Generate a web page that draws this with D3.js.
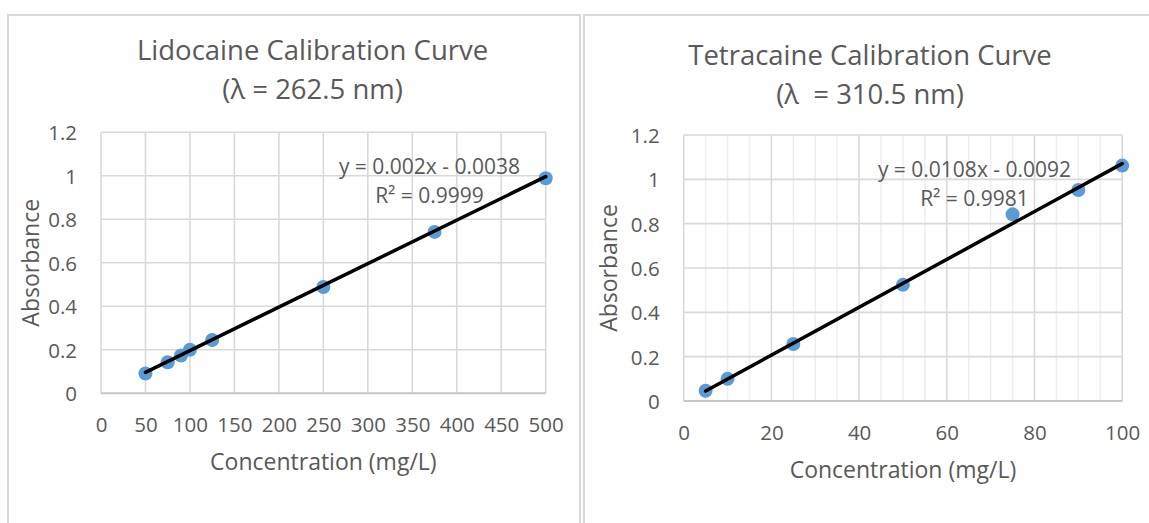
<!DOCTYPE html>
<html>
<head>
<meta charset="utf-8">
<script src="https://cdn.jsdelivr.net/npm/d3@7"></script>
<style>
  body { margin: 0; background: #ffffff; }
  text { font-family: "Open Sans", sans-serif; fill: #595959; }
</style>
</head>
<body>
<svg id="chart" width="1149" height="523"></svg>
<script>
// ---- Lidocaine standards (λ = 262.5 nm) ----
const lidoConc = [50, 75, 90, 100, 125, 250, 375, 500];
const lidoAbs = [0.091, 0.143, 0.174, 0.200, 0.245, 0.489, 0.742, 0.989];
const lidoSlope = 0.002;
const lidoIntercept = -0.0038;
const lidoR2 = "0.9999";
const lidoXTicks = [0, 50, 100, 150, 200, 250, 300, 350, 400, 450, 500];

// ---- Tetracaine standards (λ = 310.5 nm) ----
const tetraConc = [5, 10, 25, 50, 75, 90, 100];
const tetraAbs = [0.046, 0.100, 0.257, 0.524, 0.842, 0.952, 1.062];
const tetraSlope = 0.0108;
const tetraIntercept = -0.0092;
const tetraR2 = "0.9981";
const tetraXTicks = [0, 20, 40, 60, 80, 100];
const tetraXMinor = [5, 10, 15, 25, 30, 35, 45, 50, 55, 65, 70, 75, 85, 90, 95];

// ---- Shared absorbance axis ----
const yTicks = [0, 0.2, 0.4, 0.6, 0.8, 1, 1.2];

const svg = d3.select("#chart");

function equationText(slope, intercept) {
  const sign = intercept < 0 ? "-" : "+";
  return `y = ${slope}x ${sign} ${Math.abs(intercept)}`;
}

function drawPanel(p) {
  const g = svg.append("g");

  // chart frame
  g.append("rect")
    .attr("x", p.frame[0]).attr("y", p.frame[1])
    .attr("width", p.frame[2]).attr("height", p.frame[3])
    .attr("fill", "#ffffff")
    .attr("stroke", "#d9d9d9").attr("stroke-width", 2);

  const x = d3.scaleLinear().domain(p.xDomain).range([p.left, p.right]);
  const y = d3.scaleLinear().domain([0, 1.2]).range([p.bottom, p.top]);

  // minor vertical gridlines
  g.append("g").selectAll("line").data(p.xMinor || []).join("line")
    .attr("x1", d => x(d)).attr("x2", d => x(d))
    .attr("y1", y(0)).attr("y2", y(1.2))
    .attr("stroke", "#eeeeee").attr("stroke-width", 1.5);

  // major vertical gridlines
  g.append("g").selectAll("line").data(p.xTicks).join("line")
    .attr("x1", d => x(d)).attr("x2", d => x(d))
    .attr("y1", y(0)).attr("y2", y(1.2))
    .attr("stroke", "#d9d9d9").attr("stroke-width", 1.6);

  // horizontal gridlines
  g.append("g").selectAll("line").data(yTicks.filter(d => d > 0)).join("line")
    .attr("x1", x(p.xDomain[0])).attr("x2", x(p.xDomain[1]))
    .attr("y1", d => y(d)).attr("y2", d => y(d))
    .attr("stroke", "#d9d9d9").attr("stroke-width", 1.6);

  // horizontal axis line
  g.append("line")
    .attr("x1", x(p.xDomain[0])).attr("x2", x(p.xDomain[1]))
    .attr("y1", y(0)).attr("y2", y(0))
    .attr("stroke", "#c6c6c6").attr("stroke-width", 2);

  // tick labels via d3 axes
  const xAxis = g.append("g")
    .attr("transform", `translate(0,${y(0)})`)
    .call(d3.axisBottom(x).tickValues(p.xTicks).tickSize(0).tickFormat(d => String(d)));
  xAxis.select(".domain").remove();
  xAxis.selectAll("text")
    .attr("y", 39).attr("dy", 0)
    .style("font-family", "'Open Sans', sans-serif")
    .style("font-size", "20.5px").attr("fill", "#595959");

  const yAxis = g.append("g")
    .attr("transform", `translate(${x(p.xDomain[0])},0)`)
    .call(d3.axisLeft(y).tickValues(yTicks).tickSize(0).tickPadding(24).tickFormat(d => String(d)));
  yAxis.select(".domain").remove();
  yAxis.selectAll("text")
    .attr("dy", "0.36em")
    .style("font-family", "'Open Sans', sans-serif")
    .style("font-size", "20.5px").attr("fill", "#595959");

  // data points
  g.append("g").selectAll("circle").data(p.conc).join("circle")
    .attr("cx", d => x(d))
    .attr("cy", (d, i) => y(p.abs[i]))
    .attr("r", 7)
    .attr("fill", "#5b9bd5");

  // linear trendline from the fitted equation
  const xs = d3.extent(p.conc);
  g.append("line")
    .attr("x1", x(xs[0])).attr("y1", y(p.slope * xs[0] + p.intercept))
    .attr("x2", x(xs[1])).attr("y2", y(p.slope * xs[1] + p.intercept))
    .attr("stroke", "#000000").attr("stroke-width", 3.5)
    .attr("stroke-linecap", "round");

  // equation and R² labels
  g.append("text")
    .attr("x", p.eqX).attr("y", p.eqY)
    .attr("text-anchor", "middle")
    .style("font-size", "21px")
    .text(equationText(p.slope, p.intercept));
  g.append("text")
    .attr("x", p.eqX).attr("y", p.eqY + 29)
    .attr("text-anchor", "middle")
    .style("font-size", "21px")
    .text(`R² = ${p.r2}`);

  // title
  g.append("text")
    .attr("x", p.titleX).attr("y", p.titleY)
    .attr("text-anchor", "middle")
    .style("font-size", "27.5px")
    .text(p.title[0]);
  g.append("text")
    .attr("x", p.titleX).attr("y", p.titleY + 39)
    .attr("text-anchor", "middle")
    .style("font-size", "27.5px")
    .style("white-space", "pre")
    .text(p.title[1]);

  // axis titles
  g.append("text")
    .attr("x", (p.left + p.right) / 2).attr("y", p.bottom + 77)
    .attr("text-anchor", "middle")
    .style("font-size", "23px")
    .text("Concentration (mg/L)");
  g.append("text")
    .attr("transform", `translate(${p.yTitleX},${(p.top + p.bottom) / 2}) rotate(-90)`)
    .attr("text-anchor", "middle")
    .style("font-size", "23px")
    .text("Absorbance");
}

drawPanel({
  frame: [8, 15, 572, 600],
  left: 101, right: 545.7, top: 132.3, bottom: 393.3,
  xDomain: [0, 500], xTicks: lidoXTicks,
  conc: lidoConc, abs: lidoAbs,
  slope: lidoSlope, intercept: lidoIntercept, r2: lidoR2,
  eqX: 429.5, eqY: 174,
  title: ["Lidocaine Calibration Curve", "(λ = 262.5 nm)"],
  titleX: 312.6, titleY: 60,
  yTitleX: 39
});

drawPanel({
  frame: [584, 15, 700, 600],
  left: 683.7, right: 1122.2, top: 135, bottom: 401,
  xDomain: [0, 100], xTicks: tetraXTicks, xMinor: tetraXMinor,
  conc: tetraConc, abs: tetraAbs,
  slope: tetraSlope, intercept: tetraIntercept, r2: tetraR2,
  eqX: 974.5, eqY: 177,
  title: ["Tetracaine Calibration Curve", "(λ  = 310.5 nm)"],
  titleX: 870, titleY: 65,
  yTitleX: 617
});
</script>
</body>
</html>
